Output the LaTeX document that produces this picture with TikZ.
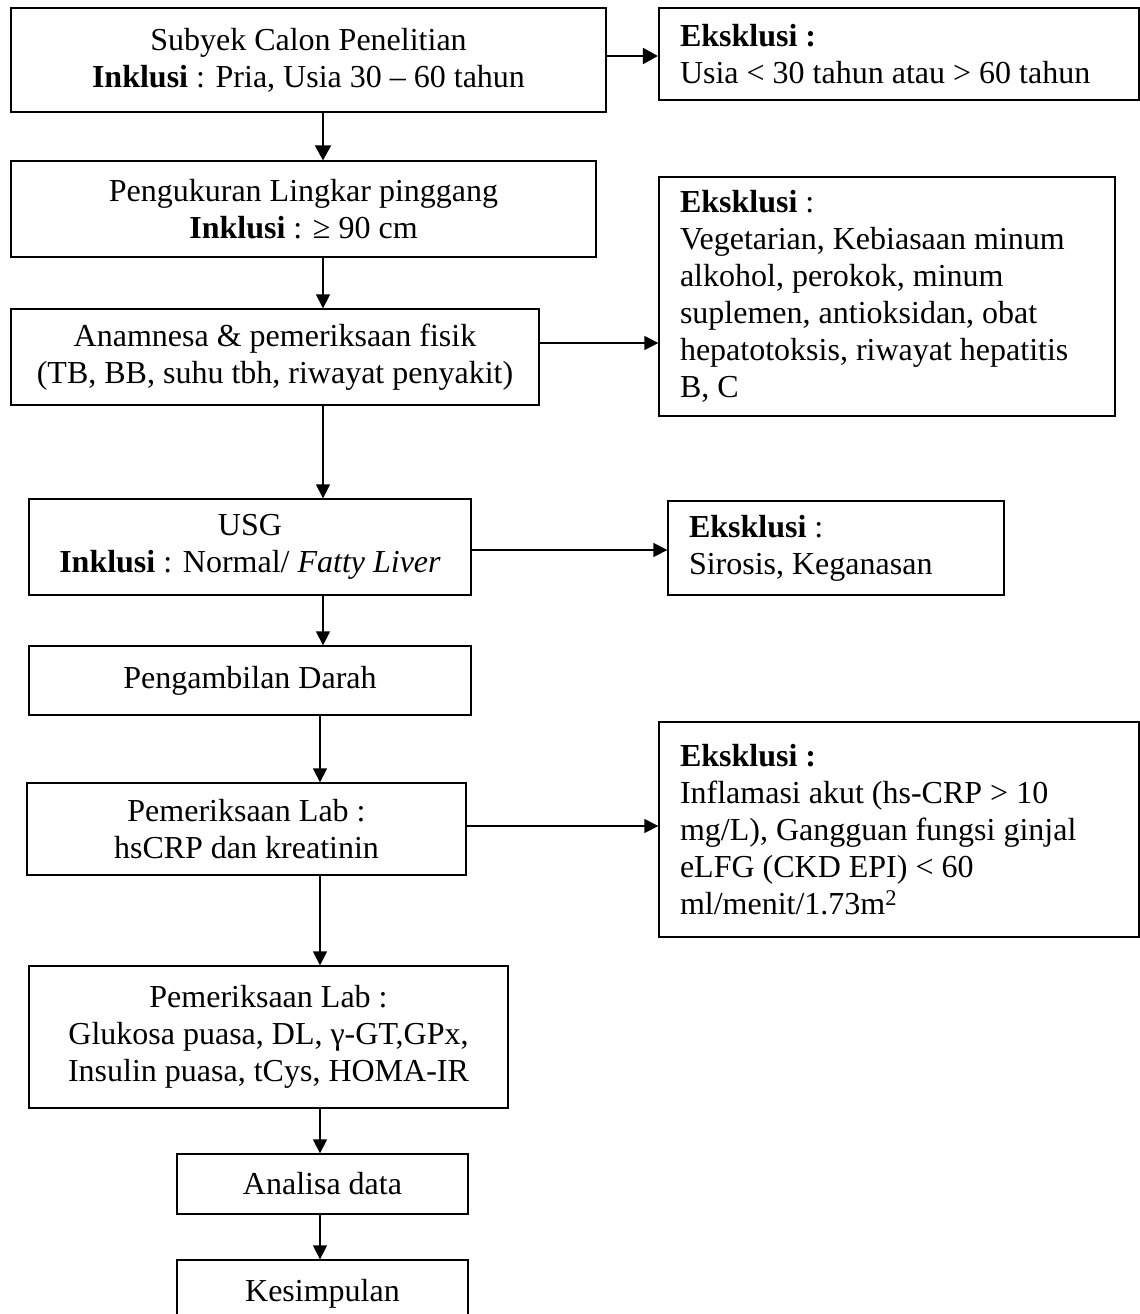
\documentclass[tikz,border=0pt]{standalone}
\usepackage{fontspec}
\setmainfont{Liberation Serif}
\usetikzlibrary{arrows.meta}
\tikzset{
  txt/.style={font=\fontsize{32}{37}\selectfont},
  cbox/.style={txt,draw,line width=1.3pt,inner sep=0pt,align=center},
  cboxthick/.style={cbox,line width=2.2pt},
  ebox/.style={txt,draw,line width=1.3pt,inner xsep=21pt,inner ysep=0pt,align=flush left},
  eboxthick/.style={ebox,line width=2.2pt},
  conn/.style={line width=1.3pt,-{Triangle[length=14pt,width=14pt]}},
  connthick/.style={line width=2pt,-{Triangle[length=15pt,width=16pt]}}
}
\begin{document}
\begin{tikzpicture}[x=1pt,y=-1pt]
\useasboundingbox (0,0) rectangle (1140,1314);
\clip (0,0) rectangle (1140,1314);
% left column
\node[cboxthick,minimum width=595pt,minimum height=104pt] (b1) at (308.5,60)
  {Subyek Calon Penelitian\\ \textbf{Inklusi} : Pria, Usia 30 – 60 tahun};
\node[cbox,minimum width=585pt,minimum height=96pt] (b2) at (303.5,209)
  {Pengukuran Lingkar pinggang\\ \textbf{Inklusi} : ≥ 90 cm};
\node[cbox,minimum width=528pt,minimum height=96pt] (b3) at (275,357)
  {Anamnesa \& pemeriksaan fisik\\ (TB, BB, suhu tbh, riwayat penyakit)};
\node[cbox,minimum width=442pt,minimum height=96pt] (b4) at (250,547)
  {USG\\ \textbf{Inklusi} : Normal/ \textit{Fatty Liver}};
\node[cbox,minimum width=442pt,minimum height=69pt] (b5) at (250,680.5)
  {Pengambilan Darah};
\node[cbox,minimum width=439pt,minimum height=92pt] (b6) at (246.5,829)
  {Pemeriksaan Lab :\\ hsCRP dan kreatinin};
\node[cbox,minimum width=479pt,minimum height=142pt] (b7) at (268.5,1037)
  {Pemeriksaan Lab :\\ Glukosa puasa, DL, γ-GT,GPx,\\ Insulin puasa, tCys, HOMA-IR};
\node[cbox,minimum width=291pt,minimum height=60pt] (b8) at (322.5,1184)
  {Analisa data};
\node[cbox,minimum width=291pt,minimum height=68pt] (b9) at (322.5,1294)
  {Kesimpulan};
% right column
\node[eboxthick,text width=438pt,minimum height=92pt] (e1) at (899,54)
  {\textbf{Eksklusi :}\\ Usia < 30 tahun atau > 60 tahun};
\node[ebox,text width=414pt,minimum height=239pt] (e2) at (887,296.5)
  {\textbf{Eksklusi} :\\ Vegetarian, Kebiasaan minum\\ alkohol, perokok, minum\\ suplemen, antioksidan, obat\\ hepatotoksis, riwayat hepatitis\\ B, C};
\node[ebox,text width=294pt,minimum height=94pt] (e3) at (836,548)
  {\textbf{Eksklusi} :\\ Sirosis, Keganasan};
\node[ebox,text width=438pt,minimum height=215pt] (e4) at (899,829.5)
  {\textbf{Eksklusi :}\\ Inflamasi akut (hs-CRP > 10\\ mg/L), Gangguan fungsi ginjal\\ eLFG (CKD EPI) < 60\\ ml/menit/1.73m\textsuperscript{2}};
% guide coordinates
\coordinate (xa) at (323,0);
\coordinate (xb) at (320,0);
\coordinate (y1) at (0,56);
\coordinate (y2) at (0,343);
\coordinate (y3) at (0,550);
\coordinate (y4) at (0,826);
% vertical connectors
\draw[connthick] (b1.south -| xa) -- (b2.north -| xa);
\draw[conn] (b2.south -| xa) -- (b3.north -| xa);
\draw[conn] (b3.south -| xa) -- (b4.north -| xa);
\draw[conn] (b4.south -| xa) -- (b5.north -| xa);
\draw[conn] (b5.south -| xb) -- (b6.north -| xb);
\draw[conn] (b6.south -| xb) -- (b7.north -| xb);
\draw[conn] (b7.south -| xb) -- (b8.north -| xb);
\draw[conn] (b8.south -| xb) -- (b9.north -| xb);
% horizontal connectors
\draw[connthick] (b1.east |- y1) -- (e1.west |- y1);
\draw[conn] (b3.east |- y2) -- (e2.west |- y2);
\draw[conn] (b4.east |- y3) -- (e3.west |- y3);
\draw[conn] (b6.east |- y4) -- (e4.west |- y4);
\end{tikzpicture}
\end{document}
